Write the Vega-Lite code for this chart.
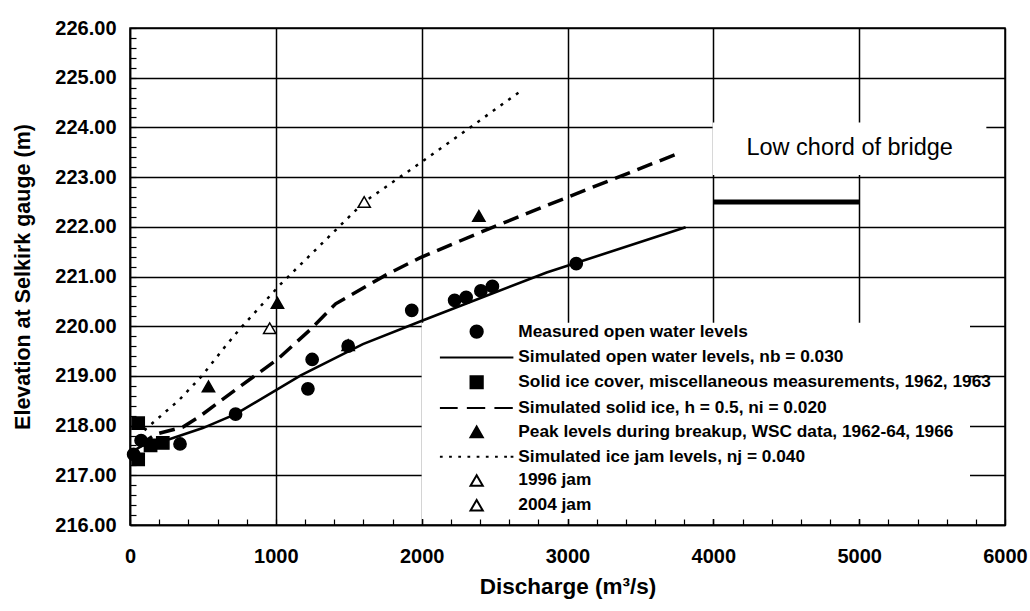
{
  "$schema": "https://vega.github.io/schema/vega-lite/v6.json",
  "width": 875,
  "height": 497,
  "autosize": {"type": "none"},
  "padding": {"left": 130, "top": 28, "right": 25, "bottom": 86},
  "background": "white",
  "config": {
    "font": "Liberation Sans",
    "view": {"stroke": "black", "strokeWidth": 1.5},
    "axis": {
      "labelFontSize": 20, "labelFontWeight": "bold", "labelColor": "black", "labelFont": "Liberation Sans",
      "labelOverlap": false, "labelFlush": false,
      "tickSize": -6, "tickColor": "black", "tickWidth": 1.2,
      "grid": true, "gridColor": "black", "gridWidth": 1.5,
      "domain": true, "domainColor": "black", "domainWidth": 1.5,
      "titleFontWeight": "bold", "titleColor": "black", "titleFont": "Liberation Sans"
    }
  },
  "title": {
    "text": "Stage-discharge curves for the Red River at Selkirk",
    "fontSize": 23, "fontWeight": "bold", "font": "Liberation Sans", "color": "black",
    "anchor": "middle", "dx": -31, "offset": 24, "baseline": "alphabetic"
  },
  "datasets": {
    "points": [
      {"series": "Measured open water levels", "Q": 25, "E": 217.42},
      {"series": "Measured open water levels", "Q": 76, "E": 217.7},
      {"series": "Measured open water levels", "Q": 343, "E": 217.63},
      {"series": "Measured open water levels", "Q": 724, "E": 218.23},
      {"series": "Measured open water levels", "Q": 1220, "E": 218.74},
      {"series": "Measured open water levels", "Q": 1249, "E": 219.33},
      {"series": "Measured open water levels", "Q": 1496, "E": 219.6},
      {"series": "Measured open water levels", "Q": 1932, "E": 220.32},
      {"series": "Measured open water levels", "Q": 2226, "E": 220.52},
      {"series": "Measured open water levels", "Q": 2305, "E": 220.58},
      {"series": "Measured open water levels", "Q": 2406, "E": 220.71},
      {"series": "Measured open water levels", "Q": 2485, "E": 220.8},
      {"series": "Measured open water levels", "Q": 3060, "E": 221.26},
      {"series": "Solid ice cover, miscellaneous measurements, 1962, 1963", "Q": 56, "E": 218.05},
      {"series": "Solid ice cover, miscellaneous measurements, 1962, 1963", "Q": 56, "E": 217.32},
      {"series": "Solid ice cover, miscellaneous measurements, 1962, 1963", "Q": 141, "E": 217.6},
      {"series": "Solid ice cover, miscellaneous measurements, 1962, 1963", "Q": 225, "E": 217.65},
      {"series": "Peak levels during breakup, WSC data, 1962-64, 1966", "Q": 538, "E": 218.79},
      {"series": "Peak levels during breakup, WSC data, 1962-64, 1966", "Q": 1011, "E": 220.47},
      {"series": "Peak levels during breakup, WSC data, 1962-64, 1966", "Q": 1496, "E": 219.62},
      {"series": "Peak levels during breakup, WSC data, 1962-64, 1966", "Q": 2392, "E": 222.22},
      {"series": "1996 jam", "Q": 958, "E": 219.96},
      {"series": "2004 jam", "Q": 1606, "E": 222.5}
    ],
    "open": [
      {"Q": 30, "E": 217.5}, {"Q": 116, "E": 217.65}, {"Q": 275, "E": 217.73},
      {"Q": 499, "E": 217.95}, {"Q": 724, "E": 218.23}, {"Q": 1171, "E": 219.01},
      {"Q": 1597, "E": 219.64}, {"Q": 2002, "E": 220.11}, {"Q": 2857, "E": 221.08},
      {"Q": 3810, "E": 221.99}
    ],
    "solidice": [
      {"Q": 60, "E": 217.6}, {"Q": 180, "E": 217.83}, {"Q": 363, "E": 217.97},
      {"Q": 476, "E": 218.18}, {"Q": 765, "E": 218.81}, {"Q": 1010, "E": 219.33},
      {"Q": 1232, "E": 219.92}, {"Q": 1410, "E": 220.45}, {"Q": 1767, "E": 221.05},
      {"Q": 1991, "E": 221.38}, {"Q": 2396, "E": 221.88}, {"Q": 2823, "E": 222.39},
      {"Q": 3780, "E": 223.5}
    ],
    "icejam": [
      {"Q": 60, "E": 217.75}, {"Q": 111, "E": 217.94}, {"Q": 335, "E": 218.51},
      {"Q": 490, "E": 218.99}, {"Q": 655, "E": 219.6}, {"Q": 755, "E": 219.95},
      {"Q": 1031, "E": 220.84}, {"Q": 1606, "E": 222.5}, {"Q": 1998, "E": 223.3},
      {"Q": 2333, "E": 224.0}, {"Q": 2678, "E": 224.73}
    ],
    "bridge": [
      {"Q": 4000, "E": 222.5}, {"Q": 5000, "E": 222.5}
    ],
    "note": [
      {"label": "Low chord of bridge"}
    ]
  },
  "layer": [
    {
      "data": {"name": "note"},
      "mark": {"type": "rect", "fill": "white"},
      "encoding": {
        "x": {"datum": 2000, "type": "quantitative", "scale": {"domain": [0, 6000], "nice": false, "zero": false}, "title": "Discharge (m³/s)",
          "axis": {"values": [0,200,400,600,800,1000,1200,1400,1600,1800,2000,2200,2400,2600,2800,3000,3200,3400,3600,3800,4000,4200,4400,4600,4800,5000,5200,5400,5600,5800,6000], "labelExpr": "datum.value % 1000 === 0 ? format(datum.value, 'd') : ''", "gridOpacity": {"condition": {"test": "datum.value % 1000 === 0", "value": 1}, "value": 0}, "labelPadding": 27, "titleFontSize": 22.5, "titlePadding": 9}},
        "x2": {"datum": 5760},
        "y": {"datum": 216.12, "type": "quantitative", "scale": {"domain": [216, 226], "nice": false, "zero": false}, "title": "Elevation at Selkirk gauge (m)",
          "axis": {"values": [216,216.2,216.4,216.6,216.8,217,217.2,217.4,217.6,217.8,218,218.2,218.4,218.6,218.8,219,219.2,219.4,219.6,219.8,220,220.2,220.4,220.6,220.8,221,221.2,221.4,221.6,221.8,222,222.2,222.4,222.6,222.8,223,223.2,223.4,223.6,223.8,224,224.2,224.4,224.6,224.8,225,225.2,225.4,225.6,225.8,226], "labelExpr": "datum.value % 1 === 0 ? format(datum.value, '.2f') : ''", "gridOpacity": {"condition": {"test": "datum.value % 1 === 0", "value": 1}, "value": 0}, "labelPadding": 20, "titleFontSize": 21.5, "titlePadding": 20}},
        "y2": {"datum": 220.07}
      }
    },
    {
      "data": {"name": "note"},
      "mark": {"type": "rect", "fill": "white"},
      "encoding": {
        "x": {"datum": 3995, "type": "quantitative", "scale": {"domain": [0, 6000], "nice": false, "zero": false}, "title": "Discharge (m³/s)",
          "axis": {"values": [0,200,400,600,800,1000,1200,1400,1600,1800,2000,2200,2400,2600,2800,3000,3200,3400,3600,3800,4000,4200,4400,4600,4800,5000,5200,5400,5600,5800,6000], "labelExpr": "datum.value % 1000 === 0 ? format(datum.value, 'd') : ''", "gridOpacity": {"condition": {"test": "datum.value % 1000 === 0", "value": 1}, "value": 0}, "labelPadding": 27, "titleFontSize": 22.5, "titlePadding": 9}},
        "x2": {"datum": 5872},
        "y": {"datum": 223.04, "type": "quantitative", "scale": {"domain": [216, 226], "nice": false, "zero": false}, "title": "Elevation at Selkirk gauge (m)",
          "axis": {"values": [216,216.2,216.4,216.6,216.8,217,217.2,217.4,217.6,217.8,218,218.2,218.4,218.6,218.8,219,219.2,219.4,219.6,219.8,220,220.2,220.4,220.6,220.8,221,221.2,221.4,221.6,221.8,222,222.2,222.4,222.6,222.8,223,223.2,223.4,223.6,223.8,224,224.2,224.4,224.6,224.8,225,225.2,225.4,225.6,225.8,226], "labelExpr": "datum.value % 1 === 0 ? format(datum.value, '.2f') : ''", "gridOpacity": {"condition": {"test": "datum.value % 1 === 0", "value": 1}, "value": 0}, "labelPadding": 20, "titleFontSize": 21.5, "titlePadding": 20}},
        "y2": {"datum": 224.1}
      }
    },
    {
      "data": {"name": "open"},
      "mark": {"type": "line", "stroke": "black", "strokeWidth": 2.6},
      "encoding": {
        "x": {"field": "Q", "type": "quantitative", "scale": {"domain": [0, 6000], "nice": false, "zero": false}, "title": "Discharge (m³/s)",
          "axis": {"values": [0,200,400,600,800,1000,1200,1400,1600,1800,2000,2200,2400,2600,2800,3000,3200,3400,3600,3800,4000,4200,4400,4600,4800,5000,5200,5400,5600,5800,6000], "labelExpr": "datum.value % 1000 === 0 ? format(datum.value, 'd') : ''", "gridOpacity": {"condition": {"test": "datum.value % 1000 === 0", "value": 1}, "value": 0}, "labelPadding": 27, "titleFontSize": 22.5, "titlePadding": 9}},
        "y": {"field": "E", "type": "quantitative", "scale": {"domain": [216, 226], "nice": false, "zero": false}, "title": "Elevation at Selkirk gauge (m)",
          "axis": {"values": [216,216.2,216.4,216.6,216.8,217,217.2,217.4,217.6,217.8,218,218.2,218.4,218.6,218.8,219,219.2,219.4,219.6,219.8,220,220.2,220.4,220.6,220.8,221,221.2,221.4,221.6,221.8,222,222.2,222.4,222.6,222.8,223,223.2,223.4,223.6,223.8,224,224.2,224.4,224.6,224.8,225,225.2,225.4,225.6,225.8,226], "labelExpr": "datum.value % 1 === 0 ? format(datum.value, '.2f') : ''", "gridOpacity": {"condition": {"test": "datum.value % 1 === 0", "value": 1}, "value": 0}, "labelPadding": 20, "titleFontSize": 21.5, "titlePadding": 20}}
      }
    },
    {
      "data": {"name": "solidice"},
      "mark": {"type": "line", "stroke": "black", "strokeWidth": 3.5, "strokeDash": [16, 8]},
      "encoding": {
        "x": {"field": "Q", "type": "quantitative", "scale": {"domain": [0, 6000], "nice": false, "zero": false}, "title": "Discharge (m³/s)",
          "axis": {"values": [0,200,400,600,800,1000,1200,1400,1600,1800,2000,2200,2400,2600,2800,3000,3200,3400,3600,3800,4000,4200,4400,4600,4800,5000,5200,5400,5600,5800,6000], "labelExpr": "datum.value % 1000 === 0 ? format(datum.value, 'd') : ''", "gridOpacity": {"condition": {"test": "datum.value % 1000 === 0", "value": 1}, "value": 0}, "labelPadding": 27, "titleFontSize": 22.5, "titlePadding": 9}},
        "y": {"field": "E", "type": "quantitative", "scale": {"domain": [216, 226], "nice": false, "zero": false}, "title": "Elevation at Selkirk gauge (m)",
          "axis": {"values": [216,216.2,216.4,216.6,216.8,217,217.2,217.4,217.6,217.8,218,218.2,218.4,218.6,218.8,219,219.2,219.4,219.6,219.8,220,220.2,220.4,220.6,220.8,221,221.2,221.4,221.6,221.8,222,222.2,222.4,222.6,222.8,223,223.2,223.4,223.6,223.8,224,224.2,224.4,224.6,224.8,225,225.2,225.4,225.6,225.8,226], "labelExpr": "datum.value % 1 === 0 ? format(datum.value, '.2f') : ''", "gridOpacity": {"condition": {"test": "datum.value % 1 === 0", "value": 1}, "value": 0}, "labelPadding": 20, "titleFontSize": 21.5, "titlePadding": 20}}
      }
    },
    {
      "data": {"name": "icejam"},
      "mark": {"type": "line", "stroke": "black", "strokeWidth": 2.5, "strokeDash": [3, 6.5]},
      "encoding": {
        "x": {"field": "Q", "type": "quantitative", "scale": {"domain": [0, 6000], "nice": false, "zero": false}, "title": "Discharge (m³/s)",
          "axis": {"values": [0,200,400,600,800,1000,1200,1400,1600,1800,2000,2200,2400,2600,2800,3000,3200,3400,3600,3800,4000,4200,4400,4600,4800,5000,5200,5400,5600,5800,6000], "labelExpr": "datum.value % 1000 === 0 ? format(datum.value, 'd') : ''", "gridOpacity": {"condition": {"test": "datum.value % 1000 === 0", "value": 1}, "value": 0}, "labelPadding": 27, "titleFontSize": 22.5, "titlePadding": 9}},
        "y": {"field": "E", "type": "quantitative", "scale": {"domain": [216, 226], "nice": false, "zero": false}, "title": "Elevation at Selkirk gauge (m)",
          "axis": {"values": [216,216.2,216.4,216.6,216.8,217,217.2,217.4,217.6,217.8,218,218.2,218.4,218.6,218.8,219,219.2,219.4,219.6,219.8,220,220.2,220.4,220.6,220.8,221,221.2,221.4,221.6,221.8,222,222.2,222.4,222.6,222.8,223,223.2,223.4,223.6,223.8,224,224.2,224.4,224.6,224.8,225,225.2,225.4,225.6,225.8,226], "labelExpr": "datum.value % 1 === 0 ? format(datum.value, '.2f') : ''", "gridOpacity": {"condition": {"test": "datum.value % 1 === 0", "value": 1}, "value": 0}, "labelPadding": 20, "titleFontSize": 21.5, "titlePadding": 20}}
      }
    },
    {
      "data": {"name": "bridge"},
      "mark": {"type": "line", "stroke": "black", "strokeWidth": 5},
      "encoding": {
        "x": {"field": "Q", "type": "quantitative", "scale": {"domain": [0, 6000], "nice": false, "zero": false}, "title": "Discharge (m³/s)",
          "axis": {"values": [0,200,400,600,800,1000,1200,1400,1600,1800,2000,2200,2400,2600,2800,3000,3200,3400,3600,3800,4000,4200,4400,4600,4800,5000,5200,5400,5600,5800,6000], "labelExpr": "datum.value % 1000 === 0 ? format(datum.value, 'd') : ''", "gridOpacity": {"condition": {"test": "datum.value % 1000 === 0", "value": 1}, "value": 0}, "labelPadding": 27, "titleFontSize": 22.5, "titlePadding": 9}},
        "y": {"field": "E", "type": "quantitative", "scale": {"domain": [216, 226], "nice": false, "zero": false}, "title": "Elevation at Selkirk gauge (m)",
          "axis": {"values": [216,216.2,216.4,216.6,216.8,217,217.2,217.4,217.6,217.8,218,218.2,218.4,218.6,218.8,219,219.2,219.4,219.6,219.8,220,220.2,220.4,220.6,220.8,221,221.2,221.4,221.6,221.8,222,222.2,222.4,222.6,222.8,223,223.2,223.4,223.6,223.8,224,224.2,224.4,224.6,224.8,225,225.2,225.4,225.6,225.8,226], "labelExpr": "datum.value % 1 === 0 ? format(datum.value, '.2f') : ''", "gridOpacity": {"condition": {"test": "datum.value % 1 === 0", "value": 1}, "value": 0}, "labelPadding": 20, "titleFontSize": 21.5, "titlePadding": 20}}
      }
    },
    {
      "data": {"name": "points"},
      "mark": {"type": "point", "filled": true, "opacity": 1, "size": 150, "stroke": "black", "strokeWidth": 1.5},
      "encoding": {
        "x": {"field": "Q", "type": "quantitative", "scale": {"domain": [0, 6000], "nice": false, "zero": false}, "title": "Discharge (m³/s)",
          "axis": {"values": [0,200,400,600,800,1000,1200,1400,1600,1800,2000,2200,2400,2600,2800,3000,3200,3400,3600,3800,4000,4200,4400,4600,4800,5000,5200,5400,5600,5800,6000], "labelExpr": "datum.value % 1000 === 0 ? format(datum.value, 'd') : ''", "gridOpacity": {"condition": {"test": "datum.value % 1000 === 0", "value": 1}, "value": 0}, "labelPadding": 27, "titleFontSize": 22.5, "titlePadding": 9}},
        "y": {"field": "E", "type": "quantitative", "scale": {"domain": [216, 226], "nice": false, "zero": false}, "title": "Elevation at Selkirk gauge (m)",
          "axis": {"values": [216,216.2,216.4,216.6,216.8,217,217.2,217.4,217.6,217.8,218,218.2,218.4,218.6,218.8,219,219.2,219.4,219.6,219.8,220,220.2,220.4,220.6,220.8,221,221.2,221.4,221.6,221.8,222,222.2,222.4,222.6,222.8,223,223.2,223.4,223.6,223.8,224,224.2,224.4,224.6,224.8,225,225.2,225.4,225.6,225.8,226], "labelExpr": "datum.value % 1 === 0 ? format(datum.value, '.2f') : ''", "gridOpacity": {"condition": {"test": "datum.value % 1 === 0", "value": 1}, "value": 0}, "labelPadding": 20, "titleFontSize": 21.5, "titlePadding": 20}},
        "shape": {
          "field": "series", "type": "nominal",
          "scale": {
            "domain": ["Measured open water levels", "Simulated open water levels, nb = 0.030", "Solid ice cover, miscellaneous measurements, 1962, 1963", "Simulated solid ice, h = 0.5, ni = 0.020", "Peak levels during breakup, WSC data, 1962-64, 1966", "Simulated ice jam levels, nj = 0.040", "1996 jam", "2004 jam"],
            "range": ["circle", "M-6,0H6", "square", "M-6,0H-3.1M-1.6,0H1.4M2.9,0H5.9", "triangle-up", "M-6,0H-5.55M-4.5,0H-4.05M-3,0H-2.55M-1.5,0H-1.05M0,0H0.45M1.5,0H1.95M3,0H3.45M4.5,0H4.95M5.55,0H6", "triangle-up", "triangle-up"]
          },
          "legend": {"title": null, "orient": "none", "direction": "vertical", "legendX": 338, "legendY": 295, "labelFontSize": 17.3, "labelFontWeight": "bold", "labelFont": "Liberation Sans", "labelColor": "black", "labelLimit": 700, "symbolSize": 150, "symbolStrokeWidth": 2, "rowPadding": 5.8, "labelOffset": 33, "padding": 0}
        },
        "fill": {
          "field": "series", "type": "nominal",
          "scale": {
            "domain": ["Measured open water levels", "Simulated open water levels, nb = 0.030", "Solid ice cover, miscellaneous measurements, 1962, 1963", "Simulated solid ice, h = 0.5, ni = 0.020", "Peak levels during breakup, WSC data, 1962-64, 1966", "Simulated ice jam levels, nj = 0.040", "1996 jam", "2004 jam"],
            "range": ["black", "white", "black", "white", "black", "white", "white", "white"]
          },
          "legend": {"title": null, "orient": "none", "direction": "vertical", "legendX": 338, "legendY": 295, "labelFontSize": 17.3, "labelFontWeight": "bold", "labelFont": "Liberation Sans", "labelColor": "black", "labelLimit": 700, "symbolSize": 150, "symbolStrokeWidth": 2, "rowPadding": 5.8, "labelOffset": 33, "padding": 0}
        },
        "stroke": {
          "field": "series", "type": "nominal",
          "scale": {
            "domain": ["Measured open water levels", "Simulated open water levels, nb = 0.030", "Solid ice cover, miscellaneous measurements, 1962, 1963", "Simulated solid ice, h = 0.5, ni = 0.020", "Peak levels during breakup, WSC data, 1962-64, 1966", "Simulated ice jam levels, nj = 0.040", "1996 jam", "2004 jam"],
            "range": ["black", "black", "black", "black", "black", "black", "black", "black"]
          },
          "legend": {"title": null, "orient": "none", "direction": "vertical", "legendX": 338, "legendY": 295, "labelFontSize": 17.3, "labelFontWeight": "bold", "labelFont": "Liberation Sans", "labelColor": "black", "labelLimit": 700, "symbolSize": 150, "symbolStrokeWidth": 2, "rowPadding": 5.8, "labelOffset": 33, "padding": 0}
        }
      }
    },
    {
      "data": {"name": "note"},
      "mark": {"type": "text", "align": "left", "baseline": "alphabetic", "fontSize": 23.5, "font": "Liberation Sans", "color": "black"},
      "encoding": {
        "x": {"datum": 4227, "type": "quantitative", "scale": {"domain": [0, 6000], "nice": false, "zero": false}, "title": "Discharge (m³/s)",
          "axis": {"values": [0,200,400,600,800,1000,1200,1400,1600,1800,2000,2200,2400,2600,2800,3000,3200,3400,3600,3800,4000,4200,4400,4600,4800,5000,5200,5400,5600,5800,6000], "labelExpr": "datum.value % 1000 === 0 ? format(datum.value, 'd') : ''", "gridOpacity": {"condition": {"test": "datum.value % 1000 === 0", "value": 1}, "value": 0}, "labelPadding": 27, "titleFontSize": 22.5, "titlePadding": 9}},
        "y": {"datum": 223.45, "type": "quantitative", "scale": {"domain": [216, 226], "nice": false, "zero": false}, "title": "Elevation at Selkirk gauge (m)",
          "axis": {"values": [216,216.2,216.4,216.6,216.8,217,217.2,217.4,217.6,217.8,218,218.2,218.4,218.6,218.8,219,219.2,219.4,219.6,219.8,220,220.2,220.4,220.6,220.8,221,221.2,221.4,221.6,221.8,222,222.2,222.4,222.6,222.8,223,223.2,223.4,223.6,223.8,224,224.2,224.4,224.6,224.8,225,225.2,225.4,225.6,225.8,226], "labelExpr": "datum.value % 1 === 0 ? format(datum.value, '.2f') : ''", "gridOpacity": {"condition": {"test": "datum.value % 1 === 0", "value": 1}, "value": 0}, "labelPadding": 20, "titleFontSize": 21.5, "titlePadding": 20}},
        "text": {"field": "label"}
      }
    }
  ]
}
